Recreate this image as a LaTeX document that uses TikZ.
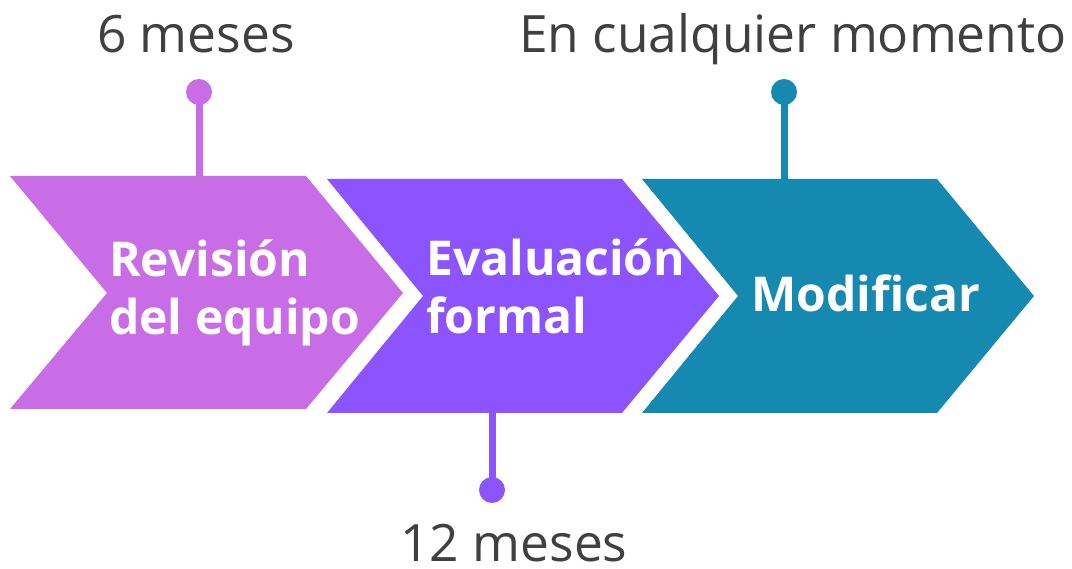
\documentclass[tikz,border=0pt]{standalone}
\usepackage{fontspec}
\setmainfont{Open Sans}
\definecolor{cOne}{RGB}{200,109,230}
\definecolor{cTwo}{RGB}{140,84,255}
\definecolor{cThree}{RGB}{21,137,176}
\definecolor{labelgray}{RGB}{64,64,64}
\tikzset{
  stem/.style={line width=7pt},
  dot/.style={circle, inner sep=0pt, minimum size=26pt, draw=none},
  boxtext/.style={anchor=base west, text=white, inner sep=0pt, font=\fontsize{48}{58}\selectfont\bfseries, align=left},
  lbl/.style={anchor=base, text=labelgray, inner sep=0pt, text depth=0pt, font=\fontsize{51.5}{60}\selectfont}
}
\begin{document}
\begin{tikzpicture}[x=1pt,y=-1pt]
\useasboundingbox (0,0) rectangle (1072,569);
% chevrons
\fill[cOne] (10,176) -- (306,176) -- (403,293) -- (306,409) -- (10,409) -- (107,293) -- cycle;
\fill[cTwo] (327,179) -- (622,179) -- (719,296) -- (622,413) -- (327,413) -- (423,296) -- cycle;
\fill[cThree] (642,179) -- (937,179) -- (1034,296) -- (937,413) -- (642,413) -- (738,296) -- cycle;
% anchors on chevrons
\coordinate (t1) at (199,177);
\coordinate (t2) at (492,412);
\coordinate (t3) at (784,180);
% dots
\node[dot, fill=cOne] (d1) at (199,92) {};
\node[dot, fill=cTwo] (d2) at (492,490) {};
\node[dot, fill=cThree] (d3) at (784,92) {};
\draw[stem, cOne] (d1.center) -- (t1);
\draw[stem, cTwo] (d2.center) -- (t2);
\draw[stem, cThree] (d3.center) -- (t3);
% box texts (base anchor = last line baseline)
\node[boxtext] (b1) at (109,335) {Revisión\\del equipo};
\node[boxtext] (b2) at (426,334) {Evaluación\\formal};
\node[boxtext] (b3) at (751,312) {Modificar};
% labels
\node[lbl] (l1) at (196,53) {6 meses};
\node[lbl] (l2) at (793,53) {En cualquier momento};
\node[lbl] (l3) at (514,561) {12 meses};
\end{tikzpicture}
\end{document}
